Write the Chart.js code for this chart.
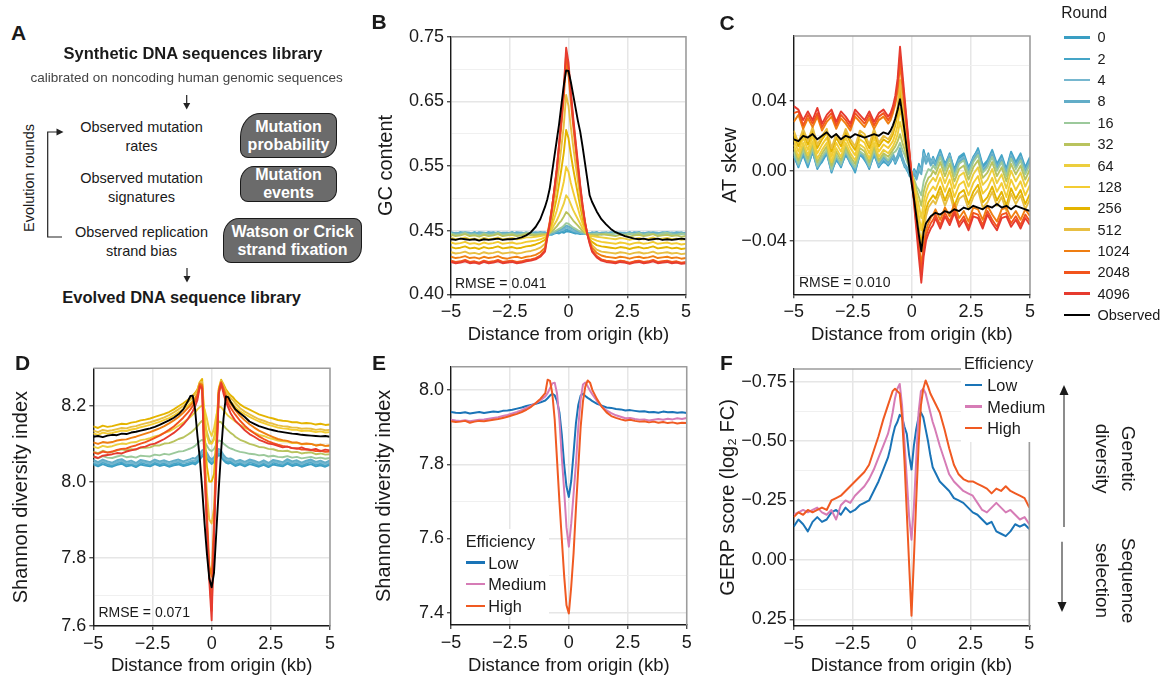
<!DOCTYPE html>
<html><head><meta charset="utf-8">
<script src="https://cdn.jsdelivr.net/npm/chart.js@4.4.1/dist/chart.umd.min.js"></script>
<style>
html,body{margin:0;padding:0;background:#fff}
body{width:1165px;height:675px;position:relative;overflow:hidden;font-family:"Liberation Sans",Arial,Helvetica,sans-serif;color:#1a1a1a}
canvas{position:absolute}
.t{position:absolute;white-space:nowrap;line-height:1}
.pl{font-weight:bold;font-size:21px}
.c{text-align:center}
.row{position:absolute;font-size:14.5px;line-height:19px;text-align:center;width:170px}
.box{position:absolute;background:#6b6b6b;border:1.3px solid #1a1a1a;color:#fff;font-weight:bold;font-size:16px;line-height:18px;text-align:center;display:flex;align-items:center;justify-content:center;box-sizing:border-box;white-space:nowrap}
.lg{position:absolute;background:#fff}
.sw{position:absolute;height:2.5px}
</style></head><body>
<canvas id="cB"></canvas><canvas id="cC"></canvas><canvas id="cD"></canvas><canvas id="cE"></canvas><canvas id="cF"></canvas>

<div class="t pl" style="left:11px;top:22px">A</div>
<div class="t pl" style="left:371.5px;top:11px">B</div>
<div class="t pl" style="left:719.5px;top:12px">C</div>
<div class="t pl" style="left:15px;top:352px">D</div>
<div class="t pl" style="left:372px;top:352px">E</div>
<div class="t pl" style="left:720px;top:352px">F</div>

<!-- Panel A -->
<div class="t c" style="left:13px;width:360px;top:44.9px;font-weight:bold;font-size:16.5px">Synthetic DNA sequences library</div>
<div class="t c" style="left:6.7px;width:360px;top:71px;font-size:13.5px;color:#444">calibrated on noncoding human genomic sequences</div>
<div class="row" style="left:56.5px;top:117.5px">Observed mutation<br>rates</div>
<div class="row" style="left:56.5px;top:169.2px">Observed mutation<br>signatures</div>
<div class="row" style="left:56.5px;top:222.5px">Observed replication<br>strand bias</div>
<div class="box" style="left:240px;top:113px;width:97px;height:45px;border-radius:20px 8px 14px 8px / 24px 8px 16px 8px">Mutation<br>probability</div>
<div class="box" style="left:240px;top:166px;width:97px;height:36px;border-radius:14px 8px 12px 8px / 16px 8px 12px 8px">Mutation<br>events</div>
<div class="box" style="left:223px;top:218px;width:139px;height:45px;border-radius:16px 8px 14px 8px / 18px 8px 16px 8px">Watson or Crick<br>strand fixation</div>
<div class="t c" style="left:-36.5px;top:169.5px;width:130px;height:16px;line-height:16px;font-size:14.5px;transform:rotate(-90deg)">Evolution rounds</div>
<div class="t c" style="left:1.7px;width:360px;top:288.9px;font-weight:bold;font-size:16.5px">Evolved DNA sequence library</div>

<svg style="position:absolute;left:0;top:0" width="1165" height="675">
  <g stroke="#222" stroke-width="1.2" fill="none">
    <line x1="186.7" y1="95" x2="186.7" y2="104"/>
    <line x1="187" y1="268" x2="187" y2="277"/>
    <polyline points="57,132 47.7,132 47.7,237 62,237"/>
  </g>
  <g fill="#222">
    <polygon points="183.2,103 190.2,103 186.7,109.5"/>
    <polygon points="183.5,276 190.5,276 187,282.5"/>
    <polygon points="56.5,128.5 56.5,135.5 63.5,132"/>
  </g>
  <g stroke="#666" stroke-width="1.5">
    <line x1="1064" y1="527" x2="1064" y2="393"/>
    <line x1="1062" y1="541.7" x2="1062" y2="604"/>
  </g>
  <g fill="#1a1a1a">
    <polygon points="1059.5,395 1068.5,395 1064,385"/>
    <polygon points="1057.5,602 1066.5,602 1062,612"/>
  </g>
</svg>

<div class="t c" style="left:1055px;top:433.4px;width:120px;height:51.2px;line-height:25.6px;font-size:19px;transform:rotate(90deg)">Genetic<br>diversity</div>
<div class="t c" style="left:1055px;top:555.4px;width:120px;height:51.2px;line-height:25.6px;font-size:19px;transform:rotate(90deg)">Sequence<br>selection</div>

<div class="t" style="left:455px;top:275.5px;font-size:14px">RMSE = 0.041</div>
<div class="t" style="left:799px;top:274.9px;font-size:14px">RMSE = 0.010</div>
<div class="t" style="left:98.5px;top:604.9px;font-size:14px">RMSE = 0.071</div>

<div class="lg" id="legE" style="left:452px;top:529px;width:97px;height:88px"></div>
<div class="lg" id="legF" style="left:961px;top:350px;width:84px;height:91.5px"></div>

<script>
// ---------------- data ----------------
const X = [-5,-4.8,-4.6,-4.4,-4.2,-4,-3.8,-3.6,-3.4,-3.2,-3,-2.8,-2.6,-2.4,-2.2,-2,-1.8,-1.6,-1.4,-1.2,-1,
 -0.9,-0.8,-0.7,-0.6,-0.5,-0.4,-0.3,-0.2,-0.1,0,0.1,0.2,0.3,0.4,0.5,0.6,0.7,0.8,0.9,
 1,1.2,1.4,1.6,1.8,2,2.2,2.4,2.6,2.8,3,3.2,3.4,3.6,3.8,4,4.2,4.4,4.6,4.8,5];

const ROUNDS = ['0','2','4','8','16','32','64','128','256','512','1024','2048','4096','Observed'];
const ROUND_COLORS = ['#3a9ec3','#45a5c7','#76b7cf','#62adc8','#9cc99b','#b9c35e','#ecce3e','#f3cc33','#e4b400','#e8bf42','#ef7e12','#f2541c','#e63b2f','#000000'];
const EFF_LABELS = ['Low','Medium','High'];
const EFF_COLORS = ['#1a74b7','#d67cb6','#f05a22'];

const X_TICKS = [-5,-2.5,0,2.5,5];
const X_TICK_LABELS = ['\u22125','\u22122.5','0','2.5','5'];
const GC_YTICK_LABELS = ['0.40','0.45','0.55','0.65','0.75'];
const SKEW_YTICK_LABELS = ['\u22120.04','0.00','0.04'];
const SHAN_YTICK_LABELS = ['7.6','7.8','8.0','8.2'];
const E_YTICK_LABELS = ['7.4','7.6','7.8','8.0'];
const F_YTICK_LABELS = ['\u22120.75','\u22120.50','\u22120.25','0.00','0.25'];

// B: GC content
const GC_0 = [.447,.445,.448,.446,.444,.447,.446,.445,.448,.446,.447,.445,.446,.448,.445,.446,.447,.445,.446,.448,.447,
 .446,.445,.444,.446,.447,.446,.448,.447,.449,.449,.448,.447,.446,.447,.445,.447,.446,.447,.445,
 .446,.448,.445,.447,.446,.448,.446,.445,.447,.446,.448,.445,.447,.446,.445,.447,.448,.446,.445,.447,.446];
const GC_2 = [.446,.446,.447,.445,.445,.448,.445,.446,.447,.445,.448,.446,.445,.447,.446,.447,.446,.444,.447,.447,.446,
 .445,.444,.445,.447,.448,.447,.449,.450,.452,.451,.450,.448,.447,.446,.446,.445,.447,.446,.446,
 .447,.447,.446,.446,.447,.447,.445,.446,.448,.445,.447,.446,.446,.447,.446,.446,.447,.447,.446,.446,.447];
const GC_4 = [.445,.447,.446,.447,.446,.446,.447,.444,.447,.447,.446,.446,.447,.446,.447,.445,.448,.446,.445,.446,.448,
 .446,.445,.446,.447,.449,.450,.451,.452,.455,.454,.452,.450,.449,.448,.447,.446,.445,.447,.446,
 .445,.446,.447,.448,.445,.446,.447,.447,.446,.447,.446,.447,.445,.448,.447,.445,.446,.447,.447,.448,.445];
const GC_8 = [.448,.446,.447,.448,.447,.445,.448,.447,.446,.448,.446,.447,.447,.445,.448,.447,.446,.447,.448,.446,.447,
 .445,.446,.447,.448,.449,.451,.453,.455,.458,.457,.455,.453,.451,.449,.448,.447,.446,.446,.445,
 .448,.445,.447,.446,.448,.447,.447,.446,.445,.448,.447,.446,.448,.447,.446,.448,.446,.445,.448,.446,.447];
const GC_16 = [.446,.444,.445,.447,.444,.445,.443,.446,.444,.445,.447,.444,.445,.446,.444,.445,.447,.446,.445,.446,.445,
 .445,.446,.448,.449,.451,.453,.455,.458,.462,.461,.458,.455,.453,.451,.449,.448,.446,.445,.445,
 .445,.446,.444,.446,.445,.447,.445,.444,.446,.445,.447,.444,.446,.445,.444,.446,.447,.445,.444,.446,.445];
const GC_32 = [.444,.442,.443,.445,.442,.443,.441,.444,.442,.443,.445,.442,.443,.444,.442,.443,.445,.444,.443,.444,.445,
 .445,.447,.450,.453,.457,.462,.466,.472,.479,.476,.471,.466,.462,.458,.454,.450,.447,.445,.444,
 .444,.443,.445,.444,.443,.442,.444,.443,.441,.443,.444,.442,.443,.445,.442,.443,.444,.442,.443,.441,.442];
const GC_64 = [.439,.437,.438,.440,.437,.438,.436,.439,.437,.438,.440,.437,.438,.439,.437,.438,.440,.440,.441,.442,.443,
 .444,.448,.453,.460,.466,.474,.483,.492,.505,.500,.491,.482,.475,.468,.461,.454,.449,.445,.442,
 .442,.441,.440,.439,.438,.437,.439,.438,.436,.438,.439,.437,.438,.440,.437,.438,.439,.437,.438,.436,.437];
const GC_128 = [.432,.430,.431,.433,.430,.431,.429,.432,.430,.431,.433,.430,.431,.432,.430,.431,.433,.434,.435,.437,.440,
 .443,.450,.459,.470,.481,.496,.510,.526,.549,.541,.524,.510,.497,.485,.472,.461,.452,.445,.440,
 .438,.435,.433,.432,.431,.430,.432,.431,.429,.431,.432,.430,.431,.433,.430,.431,.432,.430,.431,.429,.430];
const GC_256 = [.425,.423,.424,.426,.423,.424,.422,.425,.423,.424,.426,.423,.424,.425,.423,.424,.426,.427,.429,.432,.436,
 .441,.453,.467,.484,.501,.523,.546,.571,.606,.593,.568,.546,.526,.507,.487,.470,.456,.445,.437,
 .433,.428,.426,.425,.424,.423,.425,.424,.422,.424,.425,.423,.424,.426,.423,.424,.425,.423,.424,.422,.423];
const GC_512 = [.417,.415,.416,.418,.415,.416,.414,.417,.415,.416,.418,.415,.416,.417,.415,.416,.418,.419,.421,.424,.430,
 .440,.456,.475,.497,.520,.550,.580,.613,.660,.643,.610,.580,.553,.527,.501,.479,.460,.445,.435,
 .428,.421,.418,.417,.416,.415,.417,.416,.414,.416,.417,.415,.416,.418,.415,.416,.417,.415,.416,.414,.415];
const GC_1024 = [.410,.408,.409,.411,.408,.409,.407,.410,.408,.409,.411,.408,.407,.409,.410,.408,.410,.411,.413,.417,.424,
 .445,.464,.487,.513,.541,.577,.614,.655,.715,.690,.650,.612,.578,.545,.514,.486,.462,.446,.435,
 .424,.416,.412,.410,.409,.408,.410,.409,.407,.409,.410,.408,.409,.411,.408,.409,.410,.408,.409,.407,.408];
const GC_2048 = [.404,.402,.403,.405,.402,.403,.401,.404,.402,.403,.405,.402,.403,.404,.402,.403,.405,.406,.408,.412,.420,
 .442,.462,.486,.515,.545,.583,.622,.665,.725,.700,.660,.620,.585,.550,.518,.488,.463,.445,.432,
 .420,.411,.406,.404,.403,.402,.404,.403,.401,.403,.404,.402,.403,.405,.402,.403,.404,.402,.403,.401,.402];
const GC_4096 = [.402,.400,.401,.403,.400,.401,.399,.402,.400,.401,.403,.400,.401,.402,.400,.401,.403,.404,.406,.410,.418,
 .440,.460,.485,.515,.545,.585,.625,.670,.733,.710,.665,.625,.590,.555,.520,.490,.465,.445,.430,
 .418,.409,.404,.402,.401,.400,.402,.401,.399,.401,.402,.400,.401,.403,.400,.401,.402,.400,.401,.399,.400];
const GC_OBS = [.437,.436,.438,.437,.436,.437,.435,.437,.436,.437,.438,.436,.437,.437,.438,.440,.443,.448,.456,.468,.487,
 .499,.515,.540,.565,.590,.615,.645,.675,.698,.697,.680,.660,.640,.620,.603,.580,.555,.530,.505,
 .495,.480,.468,.460,.453,.448,.445,.442,.440,.438,.437,.438,.436,.437,.438,.436,.437,.436,.437,.438,.437];

// C: AT skew
const SKEW_0 = [.009,.002,.010,.003,.011,.001,.006,.010,-.001,.007,.002,.010,.004,.000,.009,.007,.001,.010,.002,.006,.003,
 .005,.008,.004,.007,.010,.006,.003,.000,-.002,-.003,.001,-.002,.004,.000,.012,.006,.010,.004,.008,
 .004,.011,.003,.010,.000,.007,.009,.001,.008,.012,.002,.005,.011,.003,.008,.000,.010,.004,.009,.001,.007];
const SKEW_2 = [.008,.003,.009,.002,.011,.002,.005,.010,.000,.006,.003,.009,.005,-.001,.010,.006,.002,.009,.003,.005,.004,
 .006,.007,.005,.008,.011,.006,.002,.001,-.003,-.004,.000,-.003,.003,.001,.011,.007,.009,.005,.007,
 .005,.012,.004,.009,.001,.008,.010,.002,.007,.013,.003,.006,.012,.004,.009,.001,.011,.005,.010,.002,.008];
const SKEW_4 = [.010,.003,.011,.004,.012,.002,.007,.011,.000,.008,.003,.011,.005,.001,.010,.008,.002,.011,.003,.007,.004,
 .006,.009,.005,.008,.012,.007,.003,.001,-.002,-.004,.000,-.004,.002,.000,.010,.006,.009,.004,.007,
 .003,.010,.002,.009,-.001,.006,.008,.000,.007,.011,.001,.004,.010,.002,.007,-.001,.009,.003,.008,.000,.006];
const SKEW_8 = [.011,.004,.010,.005,.012,.003,.008,.011,.001,.008,.004,.012,.006,.002,.011,.008,.003,.012,.004,.008,.005,
 .007,.010,.006,.009,.013,.008,.004,.002,-.001,-.005,-.002,-.005,.000,-.002,.008,.004,.007,.003,.005,
 .003,.009,.002,.008,-.001,.005,.007,-.001,.006,.010,.000,.003,.009,.001,.006,-.002,.008,.002,.007,-.001,.005];
const SKEW_16 = [.011,.004,.012,.005,.013,.003,.008,.012,.001,.009,.004,.012,.006,.002,.011,.009,.003,.012,.005,.009,.006,
 .008,.010,.011,.013,.016,.012,.009,.005,.002,-.002,-.005,-.009,-.011,-.014,-.006,-.002,.001,.000,.003,
 .001,.008,.000,.007,-.003,.004,.006,-.002,.005,.009,-.001,.002,.008,.000,.005,-.003,.007,.001,.006,-.002,.004];
const SKEW_32 = [.013,.006,.014,.007,.015,.005,.010,.014,.003,.011,.006,.014,.008,.004,.013,.011,.005,.014,.006,.010,.008,
 .010,.012,.014,.017,.021,.016,.012,.007,.003,-.002,-.006,-.011,-.015,-.020,-.012,-.007,-.004,-.003,.000,
 -.002,.005,-.003,.004,-.006,.001,.003,-.005,.002,.006,-.004,-.001,.005,-.003,.002,-.006,.004,-.002,.003,-.005,.001];
const SKEW_64 = [.015,.008,.016,.009,.017,.007,.012,.016,.005,.013,.008,.016,.010,.006,.015,.013,.007,.016,.008,.012,.010,
 .012,.014,.017,.021,.028,.022,.016,.010,.004,-.002,-.008,-.014,-.020,-.027,-.018,-.012,-.008,-.006,-.004,
 -.006,.001,-.007,.000,-.010,-.003,-.001,-.009,-.002,.002,-.008,-.005,.001,-.007,-.002,-.010,.000,-.006,-.001,-.009,-.003];
const SKEW_128 = [.018,.011,.019,.012,.020,.010,.015,.019,.008,.016,.011,.019,.013,.009,.018,.016,.010,.019,.011,.015,.013,
 .015,.017,.021,.026,.036,.028,.020,.012,.005,-.002,-.010,-.018,-.026,-.034,-.024,-.017,-.013,-.011,-.009,
 -.011,-.004,-.012,-.005,-.015,-.008,-.006,-.014,-.007,-.003,-.013,-.010,-.004,-.012,-.007,-.015,-.005,-.011,-.006,-.014,-.008];
const SKEW_256 = [.021,.014,.022,.015,.023,.013,.018,.022,.011,.019,.014,.022,.016,.012,.021,.019,.013,.022,.014,.018,.016,
 .018,.021,.026,.033,.047,.036,.026,.016,.006,-.003,-.013,-.023,-.033,-.042,-.030,-.022,-.018,-.016,-.014,
 -.016,-.009,-.017,-.010,-.020,-.013,-.011,-.019,-.012,-.008,-.018,-.015,-.009,-.017,-.012,-.020,-.010,-.016,-.011,-.019,-.013];
const SKEW_512 = [.023,.016,.024,.017,.025,.015,.020,.024,.013,.021,.016,.024,.018,.014,.023,.021,.015,.024,.016,.020,.018,
 .020,.023,.029,.037,.052,.040,.028,.017,.006,-.004,-.015,-.026,-.036,-.046,-.034,-.026,-.021,-.019,-.017,
 -.019,-.012,-.020,-.013,-.023,-.016,-.014,-.022,-.015,-.011,-.021,-.018,-.012,-.020,-.015,-.023,-.013,-.019,-.014,-.022,-.016];
const SKEW_1024 = [.028,.032,.024,.030,.025,.031,.023,.028,.031,.024,.030,.027,.023,.031,.028,.025,.030,.024,.029,.031,.027,
 .029,.033,.038,.046,.061,.048,.035,.022,.009,-.004,-.017,-.030,-.042,-.054,-.042,-.034,-.030,-.027,-.025,
 -.022,-.028,-.021,-.026,-.019,-.027,-.023,-.029,-.021,-.022,-.028,-.020,-.025,-.029,-.022,-.021,-.027,-.023,-.028,-.022,-.026];
const SKEW_2048 = [.033,.034,.026,.032,.027,.033,.025,.030,.033,.026,.032,.029,.025,.033,.030,.027,.032,.026,.031,.033,.029,
 .031,.035,.040,.049,.066,.052,.038,.024,.010,-.004,-.018,-.032,-.045,-.058,-.045,-.037,-.033,-.030,-.028,
 -.025,-.031,-.024,-.029,-.022,-.030,-.026,-.032,-.024,-.025,-.031,-.023,-.028,-.032,-.025,-.024,-.030,-.026,-.031,-.025,-.029];
const SKEW_4096 = [.037,.035,.029,.034,.029,.036,.027,.032,.035,.028,.034,.031,.027,.035,.032,.029,.034,.028,.033,.035,.031,
 .033,.037,.043,.053,.071,.056,.041,.026,.011,-.005,-.020,-.035,-.050,-.064,-.049,-.040,-.036,-.033,-.031,
 -.027,-.033,-.026,-.031,-.024,-.032,-.028,-.034,-.026,-.027,-.033,-.025,-.030,-.034,-.027,-.026,-.032,-.028,-.033,-.027,-.031];
const SKEW_OBS = [.018,.017,.020,.019,.021,.018,.020,.022,.019,.021,.018,.020,.019,.021,.020,.019,.020,.021,.020,.022,.021,
 .023,.026,.030,.035,.041,.032,.022,.011,.001,-.008,-.017,-.027,-.037,-.046,-.035,-.030,-.028,-.026,-.025,
 -.024,-.025,-.023,-.024,-.022,-.023,-.021,-.022,-.020,-.021,-.022,-.020,-.021,-.019,-.021,-.020,-.022,-.020,-.021,-.022,-.023];

// D: Shannon diversity by round
const SHAN_0 = [8.045,8.040,8.046,8.041,8.039,8.044,8.047,8.040,8.043,8.038,8.045,8.042,8.040,8.046,8.041,8.044,8.039,8.043,8.045,8.041,8.044,
 8.046,8.048,8.045,8.050,8.058,8.066,8.070,8.062,8.052,8.046,8.052,8.062,8.070,8.066,8.056,8.050,8.047,8.049,8.045,
 8.041,8.045,8.040,8.046,8.043,8.039,8.044,8.038,8.045,8.042,8.040,8.047,8.041,8.044,8.039,8.043,8.046,8.040,8.043,8.039,8.044];
const SHAN_2 = [8.049,8.043,8.051,8.045,8.042,8.048,8.052,8.044,8.046,8.041,8.050,8.046,8.043,8.050,8.045,8.048,8.042,8.047,8.050,8.044,8.048,
 8.050,8.052,8.049,8.055,8.063,8.071,8.075,8.066,8.056,8.050,8.056,8.067,8.075,8.070,8.060,8.054,8.051,8.053,8.049,
 8.045,8.049,8.043,8.051,8.047,8.042,8.048,8.041,8.050,8.046,8.043,8.052,8.045,8.048,8.042,8.047,8.051,8.044,8.047,8.042,8.048];
const SHAN_4 = [8.052,8.047,8.054,8.049,8.046,8.051,8.055,8.048,8.050,8.045,8.053,8.050,8.047,8.054,8.049,8.052,8.046,8.051,8.053,8.049,8.052,
 8.054,8.056,8.054,8.060,8.068,8.076,8.080,8.070,8.060,8.054,8.060,8.072,8.080,8.075,8.064,8.058,8.055,8.057,8.053,
 8.049,8.053,8.047,8.054,8.051,8.046,8.052,8.045,8.053,8.050,8.047,8.055,8.049,8.052,8.046,8.051,8.054,8.048,8.051,8.046,8.052];
const SHAN_8 = [8.057,8.051,8.058,8.053,8.050,8.056,8.059,8.052,8.055,8.049,8.057,8.054,8.051,8.058,8.053,8.056,8.051,8.055,8.058,8.053,8.057,
 8.059,8.062,8.060,8.066,8.074,8.082,8.086,8.076,8.064,8.058,8.064,8.077,8.086,8.081,8.070,8.063,8.060,8.061,8.058,
 8.053,8.057,8.052,8.058,8.055,8.050,8.056,8.049,8.057,8.054,8.051,8.059,8.053,8.056,8.050,8.055,8.058,8.052,8.055,8.050,8.056];
const SHAN_16 = [8.066,8.061,8.067,8.063,8.062,8.066,8.069,8.064,8.066,8.063,8.068,8.067,8.066,8.071,8.069,8.073,8.071,8.075,8.079,8.080,8.085,
 8.087,8.090,8.094,8.100,8.106,8.110,8.104,8.094,8.084,8.080,8.086,8.098,8.108,8.106,8.100,8.095,8.090,8.087,8.085,
 8.082,8.078,8.076,8.073,8.072,8.069,8.070,8.066,8.068,8.065,8.064,8.067,8.063,8.065,8.061,8.063,8.065,8.061,8.063,8.060,8.062];
const SHAN_32 = [8.079,8.075,8.081,8.077,8.078,8.082,8.085,8.082,8.085,8.084,8.089,8.089,8.090,8.095,8.095,8.100,8.101,8.106,8.112,8.116,8.124,
 8.128,8.133,8.139,8.146,8.154,8.160,8.150,8.130,8.110,8.100,8.115,8.140,8.158,8.156,8.148,8.140,8.134,8.128,8.124,
 8.118,8.110,8.105,8.099,8.096,8.091,8.090,8.086,8.085,8.081,8.080,8.081,8.077,8.078,8.074,8.076,8.077,8.072,8.074,8.071,8.072];
const SHAN_64 = [8.092,8.088,8.094,8.091,8.093,8.097,8.100,8.099,8.103,8.104,8.109,8.111,8.114,8.119,8.122,8.128,8.132,8.139,8.147,8.155,8.165,
 8.170,8.176,8.182,8.190,8.196,8.200,8.190,8.165,8.135,8.120,8.140,8.175,8.198,8.196,8.188,8.180,8.173,8.168,8.163,
 8.158,8.149,8.142,8.135,8.129,8.123,8.120,8.115,8.112,8.108,8.106,8.105,8.101,8.102,8.098,8.099,8.099,8.095,8.097,8.094,8.095];
const SHAN_128 = [8.127,8.123,8.129,8.126,8.128,8.131,8.134,8.133,8.137,8.139,8.143,8.146,8.149,8.153,8.157,8.162,8.167,8.174,8.182,8.190,8.200,
 8.206,8.213,8.220,8.230,8.245,8.255,8.180,8.120,8.100,8.100,8.110,8.160,8.235,8.252,8.240,8.228,8.218,8.210,8.204,
 8.196,8.185,8.177,8.170,8.164,8.158,8.154,8.149,8.146,8.142,8.140,8.139,8.136,8.136,8.133,8.134,8.133,8.130,8.132,8.129,8.130];
const SHAN_256 = [8.145,8.141,8.147,8.144,8.146,8.149,8.152,8.151,8.155,8.157,8.161,8.163,8.166,8.170,8.174,8.178,8.183,8.190,8.198,8.206,8.215,
 8.220,8.226,8.233,8.243,8.262,8.270,8.130,8.040,8.000,8.000,8.020,8.120,8.245,8.268,8.256,8.243,8.234,8.227,8.222,
 8.214,8.203,8.195,8.189,8.183,8.177,8.173,8.169,8.166,8.162,8.160,8.159,8.156,8.156,8.153,8.154,8.153,8.150,8.152,8.149,8.150];
const SHAN_512 = [8.134,8.130,8.136,8.133,8.135,8.138,8.141,8.140,8.144,8.146,8.150,8.153,8.156,8.160,8.164,8.169,8.175,8.182,8.190,8.199,8.209,
 8.215,8.222,8.230,8.240,8.262,8.262,8.080,7.970,7.900,7.890,7.930,8.080,8.240,8.265,8.252,8.238,8.228,8.220,8.214,
 8.206,8.193,8.184,8.177,8.170,8.164,8.160,8.155,8.152,8.148,8.146,8.145,8.142,8.142,8.139,8.140,8.139,8.136,8.138,8.135,8.136];
const SHAN_1024 = [8.103,8.099,8.104,8.102,8.104,8.108,8.110,8.111,8.115,8.118,8.122,8.126,8.130,8.135,8.140,8.146,8.153,8.161,8.170,8.181,8.194,
 8.200,8.208,8.218,8.230,8.258,8.255,8.060,7.920,7.780,7.750,7.900,8.070,8.240,8.262,8.246,8.228,8.215,8.205,8.197,
 8.188,8.173,8.161,8.151,8.142,8.134,8.128,8.122,8.117,8.112,8.109,8.107,8.103,8.103,8.099,8.100,8.099,8.095,8.097,8.094,8.095];
const SHAN_2048 = [8.077,8.073,8.079,8.076,8.079,8.083,8.086,8.087,8.092,8.095,8.100,8.104,8.109,8.115,8.121,8.128,8.136,8.145,8.156,8.168,8.182,
 8.190,8.199,8.210,8.223,8.255,8.250,8.040,7.890,7.760,7.660,7.870,8.060,8.235,8.260,8.240,8.220,8.205,8.194,8.185,
 8.176,8.160,8.147,8.136,8.127,8.119,8.112,8.106,8.101,8.097,8.094,8.092,8.088,8.088,8.084,8.085,8.083,8.080,8.081,8.078,8.079];
const SHAN_4096 = [8.066,8.062,8.068,8.070,8.072,8.075,8.074,8.079,8.082,8.085,8.090,8.092,8.097,8.100,8.106,8.112,8.120,8.128,8.138,8.150,8.165,
 8.175,8.185,8.198,8.215,8.250,8.245,8.030,7.880,7.740,7.635,7.860,8.050,8.230,8.258,8.232,8.210,8.195,8.180,8.170,
 8.160,8.148,8.135,8.125,8.118,8.110,8.105,8.100,8.098,8.094,8.090,8.092,8.088,8.086,8.090,8.085,8.083,8.086,8.080,8.084,8.082];
const SHAN_OBS = [8.118,8.120,8.117,8.121,8.123,8.122,8.126,8.125,8.129,8.131,8.134,8.137,8.140,8.144,8.149,8.155,8.161,8.168,8.177,8.190,8.212,
 8.225,8.226,8.190,8.120,8.060,7.980,7.890,7.810,7.745,7.722,7.760,7.870,7.980,8.080,8.165,8.224,8.222,8.210,8.200,
 8.190,8.180,8.170,8.158,8.152,8.146,8.142,8.138,8.135,8.132,8.130,8.128,8.126,8.125,8.123,8.122,8.121,8.120,8.119,8.120,8.118];

// E: Shannon diversity by efficiency
const E_LOW = [7.941,7.939,7.938,7.940,7.937,7.939,7.941,7.938,7.940,7.942,7.941,7.944,7.945,7.947,7.950,7.953,7.957,7.960,7.963,7.967,7.972,
 7.978,7.985,7.990,7.986,7.970,7.940,7.880,7.800,7.740,7.712,7.755,7.830,7.910,7.960,7.985,7.990,7.984,7.979,7.975,
 7.970,7.963,7.958,7.953,7.952,7.949,7.948,7.945,7.946,7.944,7.942,7.943,7.940,7.941,7.939,7.942,7.940,7.941,7.939,7.940,7.938];
const E_MED = [7.920,7.918,7.917,7.919,7.916,7.918,7.920,7.921,7.923,7.925,7.927,7.930,7.933,7.937,7.941,7.946,7.952,7.958,7.965,7.973,7.983,
 7.992,8.005,8.018,8.020,7.990,7.920,7.820,7.730,7.630,7.578,7.640,7.720,7.800,7.900,7.975,8.015,8.020,8.010,7.998,
 7.988,7.970,7.955,7.945,7.938,7.932,7.928,7.924,7.925,7.922,7.920,7.921,7.918,7.920,7.922,7.920,7.923,7.921,7.924,7.922,7.925];
const E_HIGH = [7.916,7.914,7.915,7.917,7.912,7.915,7.917,7.916,7.918,7.920,7.922,7.925,7.928,7.932,7.936,7.941,7.947,7.955,7.965,7.977,7.992,
 8.028,8.025,7.990,7.920,7.810,7.700,7.600,7.500,7.420,7.398,7.470,7.560,7.680,7.790,7.900,7.970,8.010,8.026,8.020,
 8.000,7.975,7.955,7.940,7.930,7.925,7.921,7.918,7.920,7.917,7.915,7.916,7.913,7.915,7.912,7.914,7.911,7.913,7.910,7.912,7.911];

// F: GERP score by efficiency
const F_LOW = [-.14,-.17,-.15,-.12,-.16,-.18,-.16,-.17,-.20,-.21,-.19,-.22,-.20,-.21,-.23,-.24,-.25,-.29,-.33,-.38,-.43,
 -.47,-.52,-.56,-.58,-.61,-.60,-.56,-.53,-.44,-.38,-.48,-.55,-.60,-.62,-.60,-.55,-.50,-.44,-.39,
 -.37,-.33,-.31,-.29,-.26,-.25,-.24,-.22,-.20,-.19,-.17,-.15,-.16,-.12,-.11,-.10,-.12,-.15,-.14,-.15,-.13];
const F_MED = [-.19,-.20,-.21,-.20,-.21,-.22,-.20,-.19,-.21,-.17,-.23,-.25,-.24,-.27,-.29,-.31,-.34,-.38,-.43,-.48,-.53,
 -.57,-.62,-.68,-.72,-.74,-.65,-.50,-.34,-.18,-.085,-.22,-.42,-.62,-.71,-.72,-.70,-.66,-.62,-.58,
 -.55,-.48,-.42,-.36,-.33,-.31,-.29,-.28,-.27,-.24,-.21,-.20,-.22,-.24,-.22,-.20,-.21,-.19,-.17,-.18,-.15];
const F_HIGH = [-.18,-.20,-.19,-.21,-.20,-.21,-.22,-.21,-.25,-.26,-.27,-.29,-.31,-.33,-.35,-.37,-.40,-.46,-.52,-.59,-.65,
 -.68,-.71,-.72,-.71,-.70,-.60,-.42,-.20,.02,.235,.00,-.25,-.48,-.65,-.72,-.755,-.73,-.70,-.68,
 -.66,-.62,-.55,-.47,-.40,-.36,-.34,-.33,-.33,-.32,-.31,-.30,-.28,-.30,-.29,-.31,-.29,-.28,-.27,-.26,-.22];

const GC_SERIES = [GC_0,GC_2,GC_4,GC_8,GC_16,GC_32,GC_64,GC_128,GC_256,GC_512,GC_1024,GC_2048,GC_4096,GC_OBS];
const SKEW_SERIES = [SKEW_0,SKEW_2,SKEW_4,SKEW_8,SKEW_16,SKEW_32,SKEW_64,SKEW_128,SKEW_256,SKEW_512,SKEW_1024,SKEW_2048,SKEW_4096,SKEW_OBS];
const SHAN_SERIES = [SHAN_0,SHAN_2,SHAN_4,SHAN_8,SHAN_16,SHAN_32,SHAN_64,SHAN_128,SHAN_256,SHAN_512,SHAN_1024,SHAN_2048,SHAN_4096,SHAN_OBS];
const E_SERIES = [E_LOW,E_MED,E_HIGH];
const F_SERIES = [F_LOW,F_MED,F_HIGH];

// ---------------- drawing ----------------
Chart.defaults.font.family = "'Liberation Sans', Arial, Helvetica, sans-serif";
Chart.defaults.color = '#1a1a1a';
const TICK_SIZE = 18, Y_TITLE_SIZE = 20, X_TITLE_SIZE = 18.5, INK = '#1a1a1a';

const framePlugin = {id:'frame', afterDatasetsDraw(ch){
  const {ctx, chartArea:a} = ch; ctx.save(); ctx.strokeStyle = '#9c9c9c'; ctx.lineWidth = 1.5;
  ctx.beginPath(); ctx.moveTo(a.left, a.top); ctx.lineTo(a.right, a.top); ctx.lineTo(a.right, a.bottom); ctx.stroke(); ctx.restore();
}};

const isMinor = c => c.tick && c.tick.minor;
const gridCfg = () => ({
  color: c => isMinor(c) ? '#f0f0f0' : '#e6e6e6',
  lineWidth: c => isMinor(c) ? 1 : 1.5,
  tickColor: c => isMinor(c) ? 'rgba(0,0,0,0)' : '#333',
  tickLength: 4, tickWidth: 1.2, drawTicks: true
});
const borderCfg = {display:true, color:INK, width:1.4};

function makeChart(id, geo, y, series, colors, lw){
  const [bx,by,bw,bh] = geo.box;
  const [L,T,R,B] = geo.plot;
  const cv = document.getElementById(id);
  cv.width = bw; cv.height = bh;
  Object.assign(cv.style, {left:bx+'px', top:by+'px', width:bw+'px', height:bh+'px'});
  const padL = geo.yTitleX - Y_TITLE_SIZE/2 - bx;
  const padT = T - by;
  const padR = bx + bw - R;
  const axisBottom = geo.xTitleY + X_TITLE_SIZE/2;
  const padB = by + bh - axisBottom;
  const yW = L - (bx + padL);
  const xH = axisBottom - B;
  const datasets = series.map((vals,i)=>({
    data: vals.map((v,k)=>({x:X[k], y:v})),
    borderColor: colors[i], borderWidth: lw, pointRadius: 0, fill: false, tension: 0,
    borderJoinStyle: 'round', order: 100 - i
  }));
  return new Chart(cv, {
    type: 'line',
    data: {datasets},
    plugins: [framePlugin],
    options: {
      responsive: false, animation: false, events: [],
      layout: {padding: {left:padL, top:padT, right:padR, bottom:padB}},
      plugins: {legend:{display:false}, tooltip:{enabled:false}},
      scales: {
        x: {type:'linear', min:-5, max:5,
          afterFit: s => { s.height = xH; },
          afterBuildTicks: s => { s.ticks = X_TICKS.map((v,i)=>({value:v, lbl:X_TICK_LABELS[i]})); },
          ticks: {autoSkip:false, maxRotation:0, padding:3, font:{size:TICK_SIZE}, color:INK, callback:(v,i,t)=>t[i].lbl},
          grid: gridCfg(), border: borderCfg,
          title: {display:true, text:'Distance from origin (kb)', font:{size:X_TITLE_SIZE, lineHeight:1}, padding:0, color:INK}},
        y: {type:'linear', min:y.min, max:y.max, reverse:!!y.reverse, grace:0,
          afterFit: s => { s.width = yW; },
          afterBuildTicks: s => {
            const t = y.major.map((v,i)=>({value:v, lbl:y.labels[i]}));
            y.minor.forEach(v => t.push({value:v, minor:true, lbl:''}));
            t.sort((a,b)=>a.value-b.value);
            s.ticks = t;
          },
          ticks: {autoSkip:false, padding:3, font:{size:TICK_SIZE}, color:INK, callback:(v,i,t)=>t[i].lbl},
          grid: gridCfg(), border: borderCfg,
          title: {display:true, text:y.title, font:{size:Y_TITLE_SIZE, lineHeight:1}, padding:0, color:INK}}
      }
    }
  });
}

// B
makeChart('cB', {box:[370,20,330,330], plot:[451,36.7,686,294.3], yTitleX:386.7, xTitleY:334.7},
  {min:0.352, max:0.75, major:[0.352,0.45,0.55,0.65,0.75], labels:GC_YTICK_LABELS, minor:[0.40,0.50,0.60,0.70], title:'GC content'},
  GC_SERIES, ROUND_COLORS, 1.9);
// C
makeChart('cC', {box:[700,20,345,330], plot:[793.7,36,1030,294.3], yTitleX:730.8, xTitleY:334.7},
  {min:-0.0706, max:0.0771, major:[-0.04,0,0.04], labels:SKEW_YTICK_LABELS, minor:[-0.06,-0.02,0.02,0.06], title:'AT skew'},
  SKEW_SERIES, ROUND_COLORS, 1.9);
// D
makeChart('cD', {box:[0,350,345,325], plot:[93.3,368.3,330,626], yTitleX:21.5, xTitleY:665.5},
  {min:7.62, max:8.298, major:[7.62,7.8,8.0,8.2], labels:SHAN_YTICK_LABELS, minor:[7.7,7.9,8.1], title:'Shannon diversity index'},
  SHAN_SERIES, ROUND_COLORS, 1.9);
// E
makeChart('cE', {box:[360,350,340,325], plot:[451,366.7,686.7,625], yTitleX:384.8, xTitleY:665.5},
  {min:7.367, max:8.063, major:[7.4,7.6,7.8,8.0], labels:E_YTICK_LABELS, minor:[7.5,7.7,7.9], title:'Shannon diversity index'},
  E_SERIES, EFF_COLORS, 2);
// F
makeChart('cF', {box:[700,350,345,325], plot:[793.7,369,1029.3,626], yTitleX:728.8, xTitleY:665.5},
  {min:-0.803, max:0.278, reverse:true, major:[-0.75,-0.5,-0.25,0,0.25], labels:F_YTICK_LABELS, minor:[-0.625,-0.375,-0.125,0.125], title:'GERP score (log\u2082 FC)'},
  F_SERIES, EFF_COLORS, 2);

// ---------------- legends ----------------
function addText(parent, txt, left, top, size, extra){
  const d = document.createElement('div'); d.className = 't'; d.textContent = txt;
  d.style.left = left+'px'; d.style.top = top+'px'; d.style.fontSize = size+'px';
  if (extra) Object.assign(d.style, extra);
  parent.appendChild(d); return d;
}
function addSwatch(parent, color, left, cy, w){
  const s = document.createElement('div'); s.className = 'sw';
  s.style.left = left+'px'; s.style.top = (cy-1.25)+'px'; s.style.width = w+'px'; s.style.background = color;
  parent.appendChild(s);
}
const body = document.body;
addText(body, 'Round', 1061.3, 5.3, 15.6);
ROUNDS.forEach((r,i)=>{
  const cy = 37.5 + 21.35*i;
  addSwatch(body, ROUND_COLORS[i], 1064.3, cy, 25.7);
  addText(body, r, 1097.5, cy - 7.1, 14.5);
});
const legE = document.getElementById('legE');
addText(legE, 'Efficiency', 13.7, 3.9, 16.3);
EFF_LABELS.forEach((l,i)=>{
  const cy = [33.5,55,76.8][i];
  addSwatch(legE, EFF_COLORS[i], 14, cy, 19);
  addText(legE, l, 36.3, cy - 7.9, 16.3);
});
const legF = document.getElementById('legF');
addText(legF, 'Efficiency', 3, 5.2, 16.3);
EFF_LABELS.forEach((l,i)=>{
  const cy = [35,56.7,78][i];
  addSwatch(legF, EFF_COLORS[i], 4, cy, 16.7);
  addText(legF, l, 26.3, cy - 7.9, 16.3);
});
</script>
</body></html>
